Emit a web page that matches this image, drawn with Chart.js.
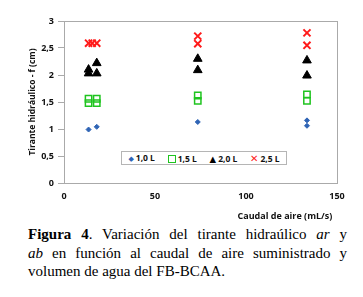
<!DOCTYPE html>
<html>
<head>
<meta charset="utf-8">
<script src="https://cdn.jsdelivr.net/npm/chart.js@4.4.1/dist/chart.umd.min.js"></script>
<style>
  html, body { margin: 0; padding: 0; background: #fff; }
  #wrap { position: relative; width: 363px; height: 297px; overflow: hidden; }
  #chartBox { position: absolute; left: 0; top: 0; width: 363px; height: 222px; }
  #legend { position: absolute; left: 121px; top: 151px; width: 166px; height: 14px; border: 1px solid #b5b5b5;
    font-family: "Open Sans", "DejaVu Sans", sans-serif; font-weight: bold; font-size: 8.5px; line-height: 13px;
    display: flex; justify-content: space-around; align-items: center; box-sizing: border-box; background: #fff; color: #111; }
  #legend span.m { display: inline-block; margin-right: 2px; }
  .cap { position: absolute; left: 28px; width: 319px; font-family: "Liberation Serif", "Times New Roman", serif;
    font-size: 15px; color: #000; white-space: nowrap; }
  .j { text-align: justify; text-align-last: justify; }
</style>
</head>
<body>
<div id="wrap">
  <div id="chartBox"><canvas id="c" width="363" height="222"></canvas></div>
  <div id="legend">
    <span><span class="m" style="color:#2f64b5;font-size:7px">&#9670;</span>1,0 L</span>
    <span><span class="m" style="display:inline-block;width:6px;height:6px;border:1px solid #1fc41f;vertical-align:-1px"></span>1,5 L</span>
    <span><span class="m" style="color:#000">&#9650;</span>2,0 L</span>
    <span><span class="m" style="color:#ff1a1a;font-size:10px">&#10005;</span>2,5 L</span>
  </div>
  <div class="cap j" style="top:226px"><b>Figura 4</b>. Variación del tirante hidraúlico <i>ar</i> y</div>
  <div class="cap j" style="top:244.5px"><i>ab</i> en función al caudal de aire suministrado y</div>
  <div class="cap" style="top:263px">volumen de agua del FB-BCAA.</div>
</div>
<script>
const seriesLabels = ["1,0 L", "1,5 L", "2,0 L", "2,5 L"];
const x10 = [13.5, 18, 73.5, 133.5, 133.5];
const y10 = [0.99, 1.04, 1.13, 1.16, 1.06];
const x15 = [13.5, 13.5, 18, 18, 73.5, 73.5, 133.5, 133.5];
const y15 = [1.56, 1.48, 1.56, 1.48, 1.62, 1.52, 1.64, 1.52];
const x20 = [13.5, 13.5, 18, 18, 73.5, 73.5, 133.5, 133.5];
const y20 = [2.1, 2.03, 2.22, 2.03, 2.3, 2.09, 2.27, 1.99];
const x25 = [13.5, 15.5, 18, 73.5, 73.5, 133.5, 133.5];
const y25 = [2.59, 2.59, 2.59, 2.72, 2.58, 2.78, 2.55];
const xTicks = [0, 50, 100, 150];
const yTicks = [0, 0.5, 1, 1.5, 2, 2.5, 3];

const pts = (xs, ys) => xs.map((v, i) => ({ x: v, y: ys[i] }));
const fmt = v => String(v).replace('.', ',');

const frame = {
  id: 'frame',
  afterDatasetsDraw(chart) {
    const a = chart.chartArea, ctx = chart.ctx;
    ctx.save();
    ctx.strokeStyle = '#aaaaaa';
    ctx.lineWidth = 1;
    ctx.strokeRect(Math.round(a.left) + 0.5, Math.round(a.top) + 0.5, Math.round(a.right - a.left), Math.round(a.bottom - a.top));
    ctx.restore();
  }
};

const fam = "'Open Sans', 'DejaVu Sans', sans-serif";
const tickFont = { family: fam, size: 9, weight: 'bold' };

new Chart(document.getElementById('c'), {
  type: 'scatter',
  data: {
    datasets: [
      { label: seriesLabels[0], data: pts(x10, y10), pointStyle: 'rectRot', radius: 2.5, backgroundColor: '#2f64b5', borderColor: '#2f64b5', borderWidth: 1 },
      { label: seriesLabels[1], data: pts(x15, y15), pointStyle: 'rect', radius: 4.5, backgroundColor: 'rgba(0,0,0,0)', borderColor: '#1fc41f', borderWidth: 1.5 },
      { label: seriesLabels[2], data: pts(x20, y20), pointStyle: 'triangle', radius: 5, backgroundColor: '#000', borderColor: '#000', borderWidth: 1 },
      { label: seriesLabels[3], data: pts(x25, y25), pointStyle: 'crossRot', radius: 5, backgroundColor: '#ff1a1a', borderColor: '#ff1a1a', borderWidth: 2 }
    ]
  },
  options: {
    responsive: false,
    animation: false,
    layout: { padding: { left: 27, right: 26, top: 21, bottom: 0 } },
    plugins: { legend: { display: false }, tooltip: { enabled: false } },
    scales: {
      x: {
        type: 'linear', min: 0, max: 150,
        afterBuildTicks: s => { s.ticks = xTicks.map(v => ({ value: v })); },
        afterFit: s => { s.height = 39; },
        grid: { display: false, drawTicks: false },
        border: { display: true, color: '#aaaaaa' },
        ticks: { font: tickFont, color: '#111', padding: 8, maxRotation: 0 },
        title: { display: true, text: 'Caudal de aire (mL/s)  ', align: 'end', font: { family: fam, size: 9, weight: 'bold' }, color: '#111', padding: { top: 4, bottom: 0 } }
      },
      y: {
        type: 'linear', min: 0, max: 3,
        afterBuildTicks: s => { s.ticks = yTicks.map(v => ({ value: v })); },
        afterFit: s => { s.width = 37; },
        grid: { drawOnChartArea: false, drawTicks: true, tickLength: 6, color: '#aaaaaa' },
        border: { display: true, color: '#aaaaaa' },
        ticks: { font: tickFont, color: '#111', padding: 4, callback: v => fmt(v) },
        title: { display: true, text: 'Tirante hidráulico - f (cm)', font: { family: fam, size: 8.5, weight: 'bold' }, color: '#111', padding: { top: 0, bottom: 2 } }
      }
    }
  },
  plugins: [frame]
});
</script>
</body>
</html>
